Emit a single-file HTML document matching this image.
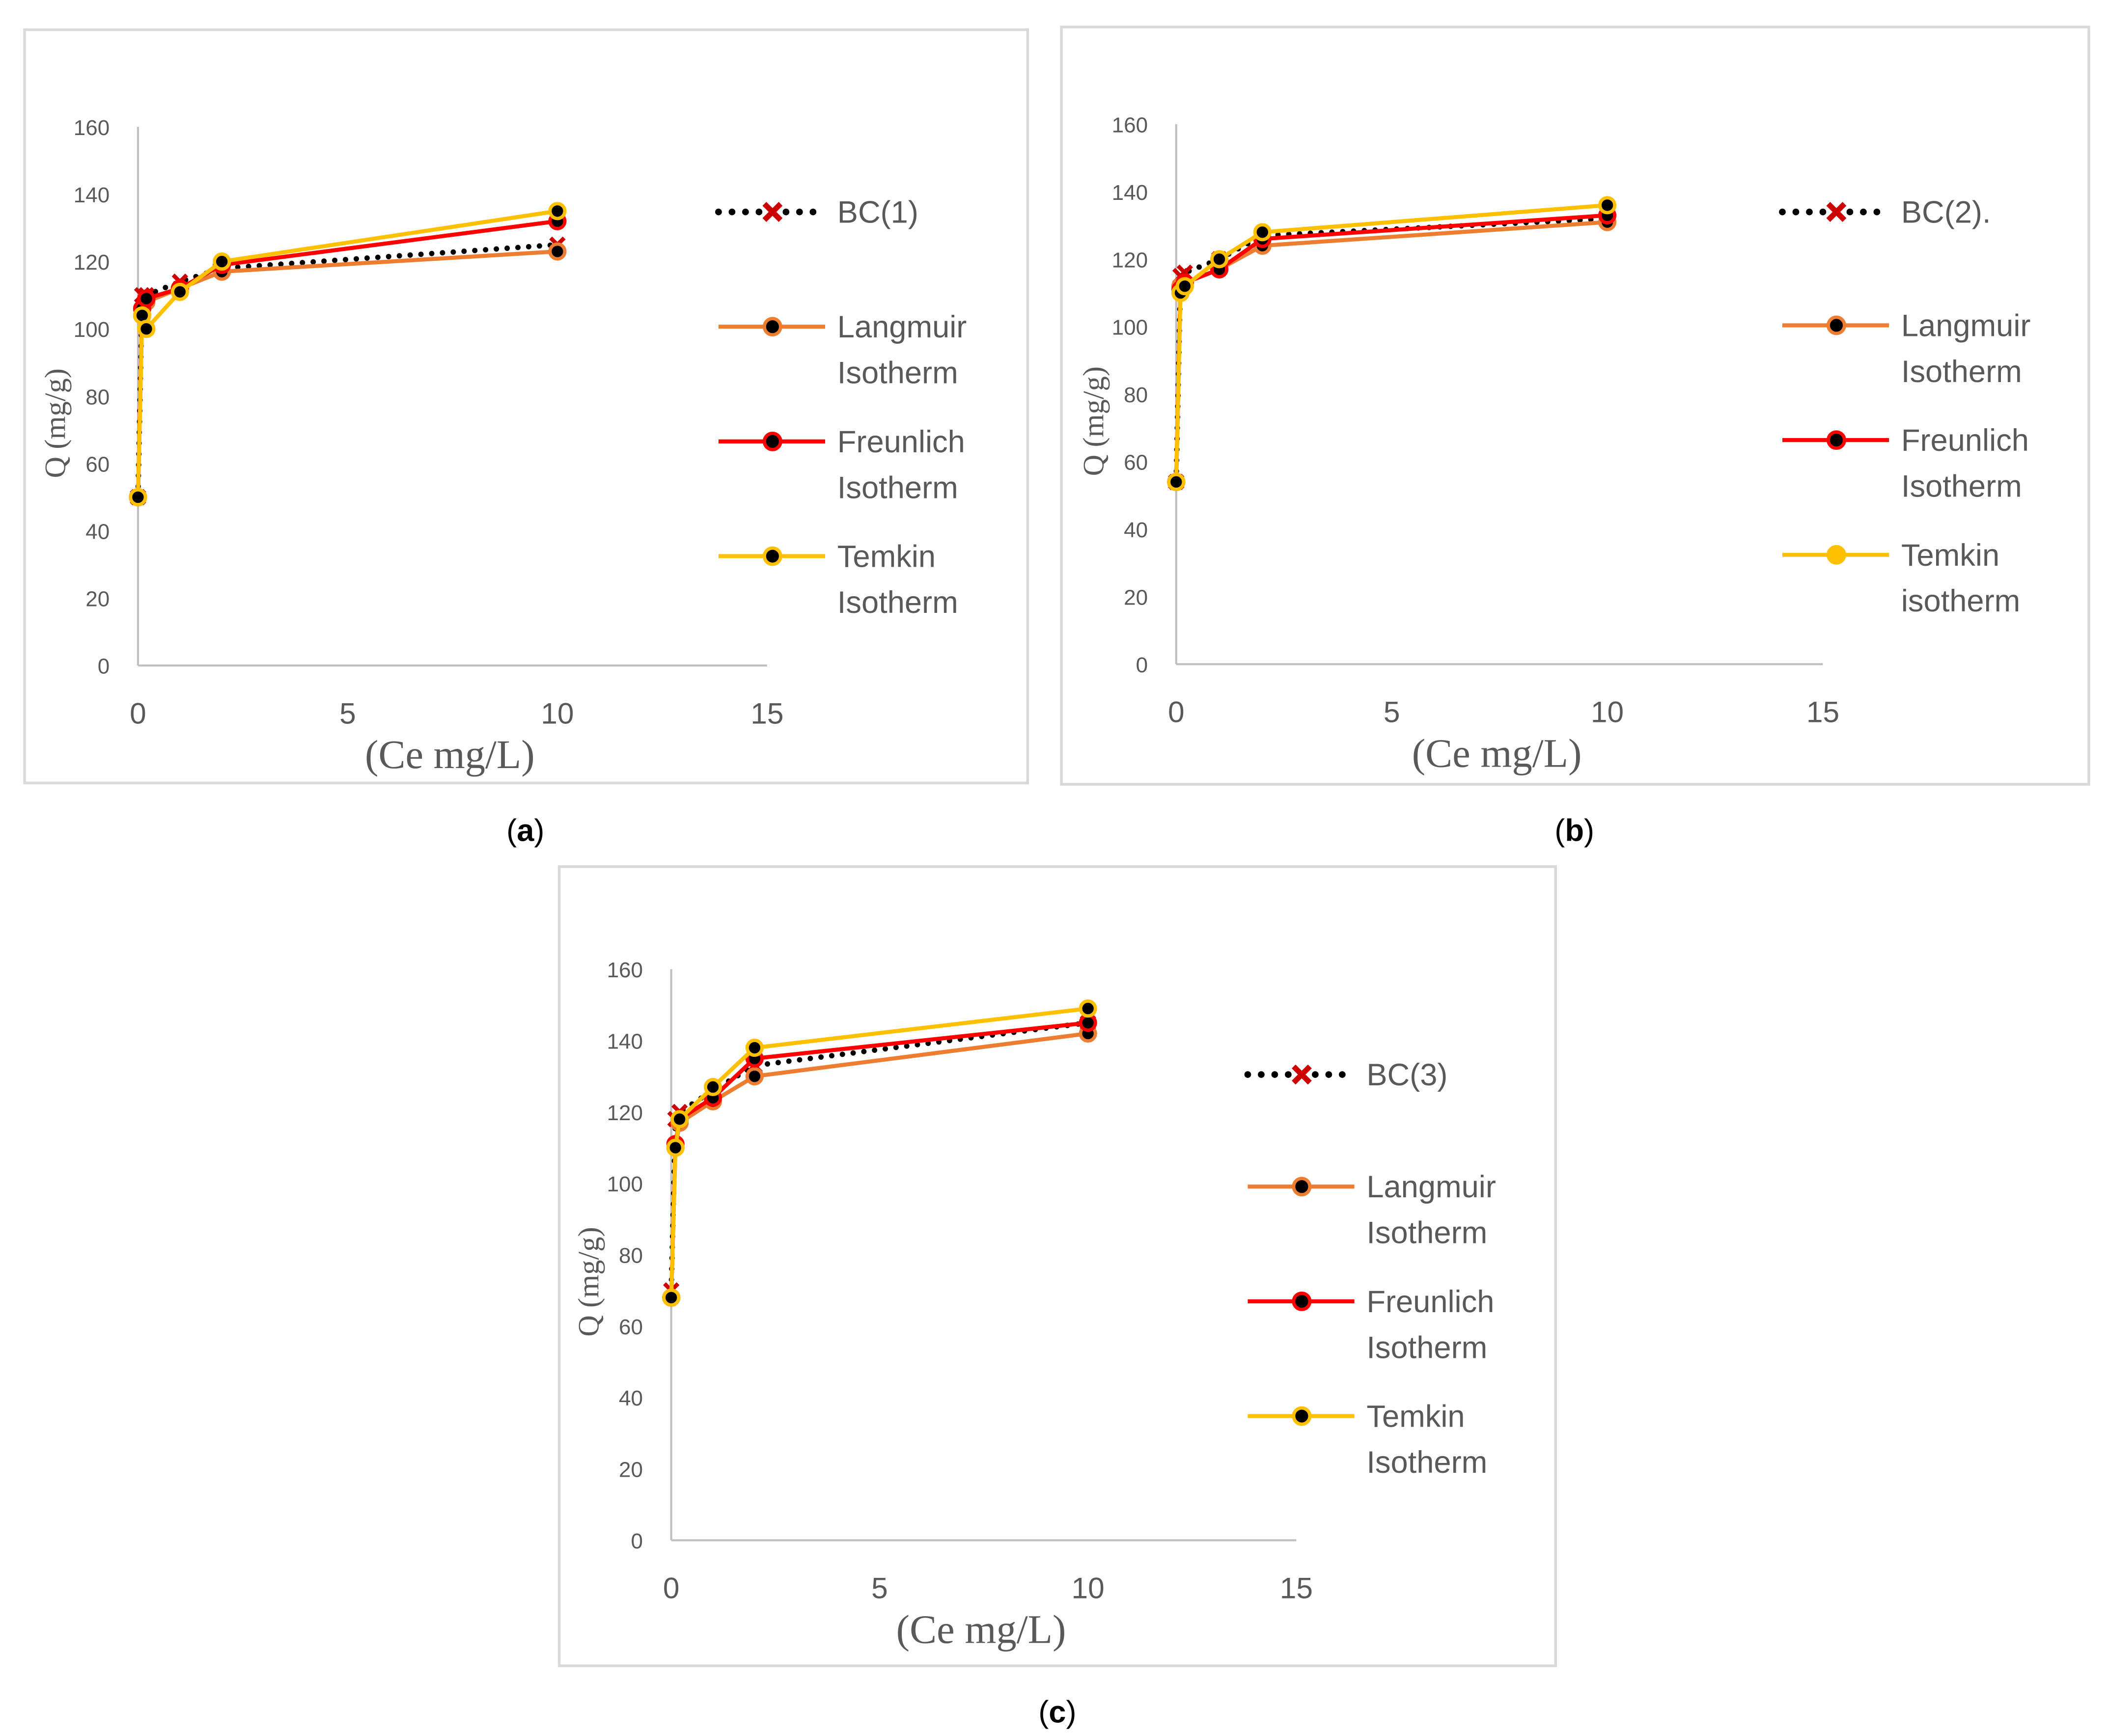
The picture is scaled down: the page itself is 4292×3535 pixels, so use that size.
<!DOCTYPE html>
<html><head><meta charset="utf-8"><style>
html,body{margin:0;padding:0;background:#fff;}
svg{display:block;}
text{font-family:"Liberation Sans",sans-serif;}
</style></head><body>
<svg id="chart" width="4292" height="3535" viewBox="0 0 1561 1286" xmlns="http://www.w3.org/2000/svg"></svg>
<script>
// data
const xVals = [0, 0.1, 0.2, 1, 2, 10];
const xTicks = [0, 5, 10, 15];
const yTicks = [0, 20, 40, 60, 80, 100, 120, 140, 160];
const bc1 = [50, 110, 110, 114, 118, 125];
const lang1 = [50, 104, 108, 112, 117, 123];
const freu1 = [50, 106, 109, 112, 119, 132];
const temk1 = [50, 104, 100, 111, 120, 135];
const bc2 = [54, 115, 116, 120, 127, 132];
const lang2 = [54, 112, 113, 117, 124, 131];
const freu2 = [54, 111, 113, 117, 126, 133];
const temk2 = [54, 110, 112, 120, 128, 136];
const bc3 = [70, 118, 120, 126, 133, 145];
const lang3 = [68, 110, 117, 123, 130, 142];
const freu3 = [68, 111, 118, 124, 135, 145];
const temk3 = [68, 110, 118, 127, 138, 149];

const NS = "http://www.w3.org/2000/svg";
const svg = document.getElementById('chart');
function el(tag, attrs, parent){const e=document.createElementNS(NS,tag);for(const k in attrs)e.setAttribute(k,attrs[k]);(parent||svg).appendChild(e);return e;}

const panels = [
 {id:'a', frame:[18,22,743,558], x0:102, x15:568, y0:493, y160:94, series:[bc1,lang1,freu1,temk1], legX:532, legY:[157,242,327,412], names:['BC(1)','Langmuir|Isotherm','Freunlich|Isotherm','Temkin|Isotherm'], cap:[389,615]},
 {id:'b', frame:[786,20,761,561], x0:871, x15:1350, y0:492, y160:92, series:[bc2,lang2,freu2,temk2], legX:1320, legY:[157,241,326,411], names:['BC(2).','Langmuir|Isotherm','Freunlich|Isotherm','Temkin|isotherm'], cap:[1166,615]},
 {id:'c', frame:[414,642,738,592], x0:497, x15:960, y0:1141, y160:718, series:[bc3,lang3,freu3,temk3], legX:924, legY:[796,879,964,1049], names:['BC(3)','Langmuir|Isotherm','Freunlich|Isotherm',' Temkin|Isotherm'], cap:[783,1268]}
];
const colors = ['#000','#ED7D31','#FF0000','#FFC000'];
const serif = 'font-family:"Liberation Serif",serif';

panels.forEach(p=>{
  const g = el('g',{});
  
  
  const f = el('rect',{x:p.frame[0],y:p.frame[1],width:p.frame[2],height:p.frame[3],fill:'#fff',stroke:'#d9d9d9','stroke-width':2},g);
  
  
  const sx = v=>p.x0+(p.x15-p.x0)*v/15;
  const sy = v=>p.y0-(p.y0-p.y160)*v/160;
  const ax = el('line',{x1:p.x0,y1:p.y0,x2:p.x15,y2:p.y0,stroke:'#bfbfbf','stroke-width':1.5},g);
  
  
  const ay = el('line',{x1:p.x0,y1:p.y0,x2:p.x0,y2:p.y160,stroke:'#bfbfbf','stroke-width':1.5},g);
  
  
  yTicks.forEach(t=>{const tx=el('text',{x:p.x0-21,y:sy(t)+6,'text-anchor':'end','font-size':16,fill:'#595959'},g);tx.textContent=t;
    
    });
  xTicks.forEach(t=>{const tx=el('text',{x:sx(t),y:p.y0+43,'text-anchor':'middle','font-size':22,fill:'#595959'},g);tx.textContent=t;
    
    });
  const xt=el('text',{x:(p.x0+p.x15)/2-2,y:p.y0+76,'text-anchor':'middle','font-size':30,fill:'#595959',style:serif},g);
  xt.textContent='(Ce mg/L)';
  
  
  const yc=(p.y0+p.y160)/2+20;
  const yx=p.x0-54;
  const yt=el('text',{x:yx,y:yc,'text-anchor':'middle','font-size':22,fill:'#595959',style:serif,transform:`rotate(-90 ${yx} ${yc})`},g);
  yt.textContent='Q (mg/g)';
  
  
  // series
  p.series.forEach((s,i)=>{
    const pts = s.map((v,j)=>sx(xVals[j])+','+sy(v)).join(' ');
    const attrs = {points:pts,fill:'none',stroke:colors[i],'stroke-width':i==0?4:3,'stroke-linejoin':'round'};
    if(i==0){attrs['stroke-dasharray']='0 8';attrs['stroke-linecap']='round';}
    const pl=el('polyline',attrs,g);
    
    
    s.forEach((v,j)=>{
      if(i==0){const m=el('path',{d:`M${sx(xVals[j])-5},${sy(v)-5}l10,10m0,-10l-10,10`,stroke:'#c00','stroke-width':3},g);
        
        }
      else{const c=el('circle',{cx:sx(xVals[j]),cy:sy(v),r:5.5,fill:'#000',stroke:colors[i],'stroke-width':2.5},g);
        
        }
    });
  });
  // legend
  p.names.forEach((n,i)=>{
    const ly=p.legY[i];
    const attrs={x1:p.legX,y1:ly,x2:p.legX+79,y2:ly,stroke:colors[i],'stroke-width':i==0?5:3};
    if(i==0){attrs['stroke-dasharray']='0 10';attrs['stroke-linecap']='round';}
    const l=el('line',attrs,g);
    
    
    if(i==0){const m=el('path',{d:`M${p.legX+34},${ly-6}l12,12m0,-12l-12,12`,stroke:'#c00','stroke-width':4},g);
      
      }
    else{const c=el('circle',{cx:p.legX+40,cy:ly,r:6,fill:(p.id=='b'&&i==3)?'#FFC000':'#000',stroke:colors[i],'stroke-width':2.5},g);
      
      }
    const parts=n.split('|');
    parts.forEach((t,k)=>{const tx=el('text',{x:p.legX+88,y:ly+8+k*34,'font-size':23,fill:'#595959','xml:space':'preserve'},g);tx.textContent=t;
      
      });
  });
  const cap=el('text',{x:p.cap[0],y:p.cap[1]+8,'text-anchor':'middle','font-size':23,fill:'#000'},svg);
  cap.innerHTML='(<tspan font-weight="bold">'+p.id+'</tspan>)';
  
  
});
</script>
</body></html>
